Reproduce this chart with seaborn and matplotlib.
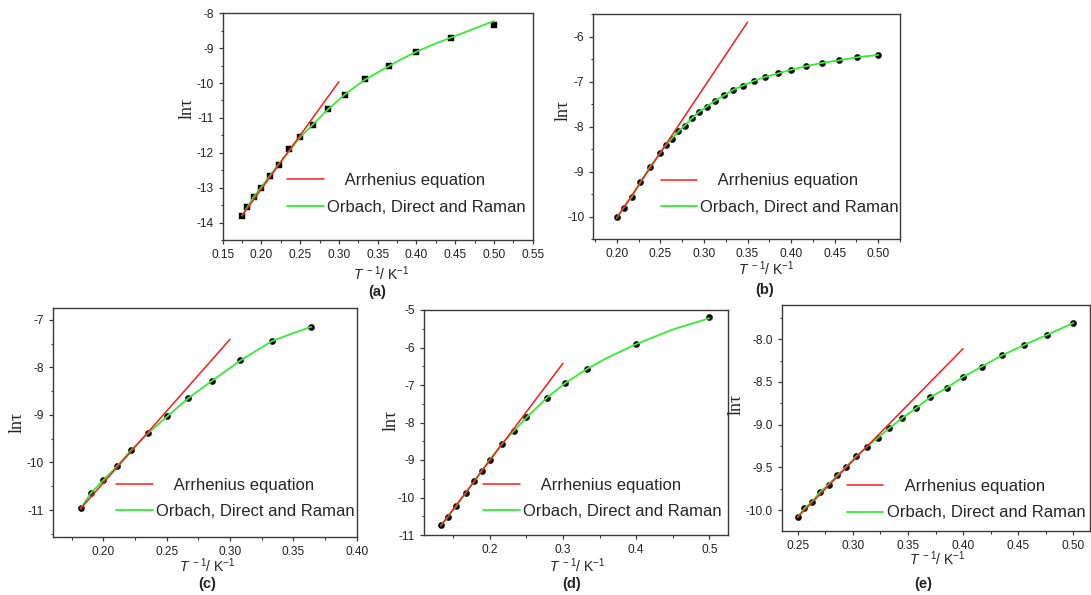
import numpy as np
import pandas as pd
import matplotlib
matplotlib.use("Agg")
import matplotlib.pyplot as plt
import seaborn as sns
from matplotlib.ticker import MultipleLocator, FormatStrFormatter

# ---------------- data ----------------
# panel (a)
a_x = [0.175, 0.182, 0.190, 0.200, 0.211, 0.222, 0.235, 0.250, 0.267, 0.286,
       0.308, 0.333, 0.364, 0.400, 0.444, 0.500]
a_y = [-13.81, -13.54, -13.27, -13.00, -12.66, -12.34, -11.90, -11.55, -11.20,
       -10.75, -10.33, -9.88, -9.51, -9.10, -8.71, -8.34]
a_fit_x = [0.175, 0.190, 0.200, 0.222, 0.250, 0.286, 0.308, 0.333, 0.364, 0.380,
           0.400, 0.420, 0.444, 0.470, 0.500]
a_fit_y = [-13.80, -13.26, -12.98, -12.33, -11.55, -10.75, -10.32, -9.91, -9.52,
           -9.32, -9.10, -8.91, -8.70, -8.48, -8.22]
a_arr_x = [0.175, 0.300]
a_arr_y = [-13.80, -9.96]

# panel (b)
b_x = [0.200, 0.208, 0.217, 0.227, 0.238, 0.250, 0.256, 0.263, 0.270, 0.278,
       0.286, 0.294, 0.303, 0.3125, 0.323, 0.333, 0.345, 0.357, 0.370, 0.385,
       0.400, 0.417, 0.435, 0.455, 0.476, 0.500]
b_y = [-10.00, -9.80, -9.57, -9.24, -8.90, -8.58, -8.40, -8.28, -8.11, -7.99,
       -7.81, -7.68, -7.56, -7.43, -7.30, -7.18, -7.10, -6.98, -6.90, -6.81,
       -6.75, -6.66, -6.59, -6.53, -6.46, -6.41]
b_fit_x = b_x
b_fit_y = [-10.03, -9.80, -9.57, -9.24, -8.90, -8.58, -8.42, -8.27, -8.12, -7.98,
           -7.82, -7.68, -7.56, -7.43, -7.31, -7.19, -7.09, -6.99, -6.90, -6.82,
           -6.74, -6.66, -6.59, -6.53, -6.46, -6.41]
b_arr_x = [0.200, 0.350]
b_arr_y = [-10.03, -5.68]

# panel (c)
c_x = [0.182, 0.190, 0.200, 0.211, 0.222, 0.235, 0.250, 0.267, 0.286, 0.308,
       0.333, 0.364]
c_y = [-10.95, -10.65, -10.37, -10.07, -9.74, -9.38, -9.03, -8.64, -8.28, -7.85,
       -7.44, -7.15]
c_fit_x = [0.182, 0.190, 0.200, 0.211, 0.222, 0.235, 0.250, 0.267, 0.286, 0.308,
           0.333, 0.350, 0.364]
c_fit_y = [-10.97, -10.65, -10.37, -10.07, -9.74, -9.39, -9.04, -8.65, -8.28,
           -7.86, -7.45, -7.28, -7.15]
c_arr_x = [0.182, 0.300]
c_arr_y = [-10.97, -7.41]

# panel (d)
d_x = [0.133, 0.143, 0.154, 0.167, 0.179, 0.189, 0.200, 0.217, 0.233, 0.250,
       0.278, 0.303, 0.333, 0.400, 0.500]
d_y = [-10.72, -10.51, -10.23, -9.88, -9.56, -9.28, -8.99, -8.56, -8.22, -7.85,
       -7.34, -6.94, -6.56, -5.90, -5.18]
d_fit_x = [0.133, 0.143, 0.154, 0.167, 0.179, 0.189, 0.200, 0.217, 0.233, 0.250,
           0.278, 0.303, 0.333, 0.360, 0.400, 0.450, 0.500]
d_fit_y = [-10.75, -10.51, -10.23, -9.88, -9.56, -9.28, -8.99, -8.56, -8.22,
           -7.87, -7.34, -6.95, -6.57, -6.28, -5.91, -5.52, -5.22]
d_arr_x = [0.133, 0.300]
d_arr_y = [-10.75, -6.42]

# panel (e)
e_x = [0.250, 0.256, 0.263, 0.270, 0.278, 0.286, 0.294, 0.303, 0.3125, 0.323,
       0.333, 0.345, 0.357, 0.370, 0.385, 0.400, 0.417, 0.435, 0.455, 0.476,
       0.500]
e_y = [-10.08, -9.98, -9.90, -9.79, -9.70, -9.59, -9.49, -9.37, -9.26, -9.15,
       -9.04, -8.92, -8.81, -8.68, -8.57, -8.44, -8.32, -8.19, -8.07, -7.95,
       -7.81]
e_fit_x = e_x
e_fit_y = e_y
e_arr_x = [0.250, 0.400]
e_arr_y = [-10.08, -8.11]

panel_letters = ["(a)", "(b)", "(c)", "(d)", "(e)"]
legend_labels = ["    Arrhenius equation", "Orbach, Direct and Raman"]

# ---------------- style ----------------
sns.set_theme(style="ticks")
plt.rcParams["font.family"] = ["Liberation Sans", "DejaVu Sans"]
plt.rcParams["axes.unicode_minus"] = False
plt.rcParams["mathtext.fontset"] = "custom"
plt.rcParams["mathtext.rm"] = "Liberation Sans"
plt.rcParams["mathtext.it"] = "Liberation Sans:italic"

W, H = 1091, 595
fig = plt.figure(figsize=(W / 100, H / 100), dpi=100)

FRAME = "#3a3a3a"
RED = "#ff1a1a"
GREEN = "#33ee33"


def px_rect(left, top, right, bottom):
    return [left / W, 1 - bottom / H, (right - left) / W, (bottom - top) / H]


panels = [
    dict(rect=px_rect(222.7, 13.3, 532.7, 240.0), x=a_x, y=a_y, fx=a_fit_x, fy=a_fit_y,
         rx=a_arr_x, ry=a_arr_y, marker="s", xlim=(0.15, 0.55), ylim=(-14.5, -8.0),
         xmaj=0.05, xmin=0.025, xfmt="%.2f", ymaj=1.0, ymin=0.5, yfmt="%d",
         leg=(287.0, 179.0, 209.3), ylab=(187.0, 108.0), xlab=(381.7, 274.0),
         letter=(376.7, 291.7)),
    dict(rect=px_rect(593.3, 14.0, 900.0, 239.0), x=b_x, y=b_y, fx=b_fit_x, fy=b_fit_y,
         rx=b_arr_x, ry=b_arr_y, marker="o", xlim=(0.173, 0.525), ylim=(-10.5, -5.5),
         xmaj=0.05, xmin=0.025, xfmt="%.2f", ymaj=1.0, ymin=0.5, yfmt="%d",
         leg=(660.5, 179.3, 209.3), ylab=(563.5, 110.0), xlab=(766.7, 268.5),
         letter=(765.0, 290.0)),
    dict(rect=px_rect(52.7, 308.3, 356.7, 536.7), x=c_x, y=c_y, fx=c_fit_x, fy=c_fit_y,
         rx=c_arr_x, ry=c_arr_y, marker="o", xlim=(0.16, 0.40), ylim=(-11.56, -6.76),
         xmaj=0.05, xmin=0.025, xfmt="%.2f", ymaj=1.0, ymin=0.5, yfmt="%d",
         leg=(116.3, 482.7, 514.0), ylab=(17.0, 422.0), xlab=(207.5, 566.0),
         letter=(206.7, 583.8)),
    dict(rect=px_rect(424.0, 310.0, 728.3, 535.0), x=d_x, y=d_y, fx=d_fit_x, fy=d_fit_y,
         rx=d_arr_x, ry=d_arr_y, marker="o", xlim=(0.11, 0.526), ylim=(-11.0, -5.0),
         xmaj=0.1, xmin=0.05, xfmt="%.1f", ymaj=1.0, ymin=0.5, yfmt="%d",
         leg=(483.0, 482.7, 514.0), ylab=(391.0, 420.0), xlab=(577.5, 566.0),
         letter=(571.7, 583.8)),
    dict(rect=px_rect(781.7, 305.0, 1090.0, 530.7), x=e_x, y=e_y, fx=e_fit_x, fy=e_fit_y,
         rx=e_arr_x, ry=e_arr_y, marker="o", xlim=(0.2355, 0.515), ylim=(-10.24, -7.6),
         xmaj=0.05, xmin=0.025, xfmt="%.2f", ymaj=0.5, ymin=0.25, yfmt="%.1f",
         leg=(846.7, 484.0, 515.0), ylab=(736.0, 404.0), xlab=(937.5, 559.0),
         letter=(923.3, 583.8)),
]

for p, letter in zip(panels, panel_letters):
    ax = fig.add_axes(p["rect"])
    pts = pd.DataFrame({"x": p["x"], "y": p["y"]})
    fit = pd.DataFrame({"x": p["fx"], "y": p["fy"]})
    arr = pd.DataFrame({"x": p["rx"], "y": p["ry"]})

    sns.scatterplot(data=pts, x="x", y="y", ax=ax, marker=p["marker"], s=20,
                    color="black", edgecolor="black", linewidth=0.3, zorder=3)
    sns.lineplot(data=fit, x="x", y="y", ax=ax, color=GREEN, lw=1.3,
                 sort=False, estimator=None, zorder=4)
    green_line = ax.get_lines()[-1]
    sns.lineplot(data=arr, x="x", y="y", ax=ax, color=RED, lw=1.1,
                 sort=False, estimator=None, zorder=5)
    red_line = ax.get_lines()[-1]

    ax.set_xlim(*p["xlim"])
    ax.set_ylim(*p["ylim"])
    ax.xaxis.set_major_locator(MultipleLocator(p["xmaj"]))
    ax.xaxis.set_minor_locator(MultipleLocator(p["xmin"]))
    ax.yaxis.set_major_locator(MultipleLocator(p["ymaj"]))
    ax.yaxis.set_minor_locator(MultipleLocator(p["ymin"]))
    ax.xaxis.set_major_formatter(FormatStrFormatter(p["xfmt"]))
    ax.yaxis.set_major_formatter(FormatStrFormatter(p["yfmt"]))

    for side in ["top", "right", "bottom", "left"]:
        ax.spines[side].set_visible(True)
        ax.spines[side].set_color(FRAME)
        ax.spines[side].set_linewidth(1.0)
    ax.tick_params(which="major", direction="out", length=3.2, width=0.9,
                   color=FRAME, labelsize=8.6, labelcolor="#222222", pad=3.2,
                   top=False, right=False)
    ax.tick_params(which="minor", direction="out", length=1.8, width=0.8,
                   color=FRAME, top=False, right=False)

    l, b, w, h = p["rect"]
    ax_left, ax_right = l * W, (l + w) * W
    ax_top, ax_bottom = (1 - b - h) * H, (1 - b) * H

    ax.set_ylabel("ln\u03c4", family=["Liberation Serif", "DejaVu Serif"],
                  fontsize=13, color="#222222")
    yl = p["ylab"]
    ax.yaxis.set_label_coords((yl[0] - ax_left) / (ax_right - ax_left),
                              (ax_bottom - yl[1]) / (ax_bottom - ax_top))
    ax.yaxis.label.set_verticalalignment("center")

    ax.set_xlabel(r"$\mathit{T}^{\ -1}$/ K$^{-1}$", fontsize=10, color="#222222")
    xl = p["xlab"]
    ax.xaxis.set_label_coords((xl[0] - ax_left) / (ax_right - ax_left),
                              (ax_bottom - xl[1]) / (ax_bottom - ax_top))
    ax.xaxis.label.set_verticalalignment("center")

    hx, y1, y2 = p["leg"]
    yc = (y1 + y2) / 2
    ax.legend([red_line, green_line], legend_labels, loc="center left",
              bbox_to_anchor=(hx / W, 1 - yc / H), bbox_transform=fig.transFigure,
              frameon=False, fontsize=12, handlelength=2.2, handletextpad=0.2,
              borderpad=0, borderaxespad=0, labelspacing=0.7)

    fig.text(p["letter"][0] / W, 1 - p["letter"][1] / H, letter, ha="center",
             va="center", fontsize=10.5, fontweight="bold", color="#222222")

fig.savefig("out.png", dpi=100)
